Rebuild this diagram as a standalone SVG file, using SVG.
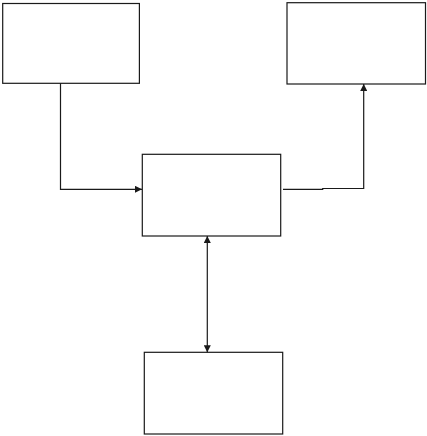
<svg xmlns="http://www.w3.org/2000/svg" width="427" height="436" viewBox="0 0 427 436">
<style>
.box{fill:#fff;stroke:#1a1a1a;stroke-width:1.2}
.lbl{font-family:"Liberation Sans",Arial,sans-serif;font-size:14px;fill:#fff;text-anchor:middle}
.big{font-size:17px}
.con{fill:none;stroke:#1a1a1a;stroke-width:1.2}
</style>
<defs>
<marker id="ah" viewBox="0 0 10 10" refX="10" refY="5" markerWidth="7" markerHeight="7" markerUnits="userSpaceOnUse" orient="auto-start-reverse">
<path d="M0,0 L10,5 L0,10 Z" fill="#1a1a1a"/>
</marker>
</defs>
<rect width="427" height="436" fill="#fff"/>
<g id="input">
<rect class="box" x="2.7" y="3.5" width="136.7" height="79.8"/>
<text class="lbl" x="71" y="31">Periféricos</text>
<text class="lbl" x="71" y="47.5">de</text>
<text class="lbl" x="71" y="64">Input</text>
</g>
<g id="output">
<rect class="box" x="287" y="2.7" width="138.5" height="81.3"/>
<text class="lbl" x="356" y="29">Periféricos</text>
<text class="lbl" x="356" y="45.5">de</text>
<text class="lbl" x="356" y="62">Output</text>
</g>
<g id="cpu">
<rect class="box" x="142.3" y="154.3" width="138.4" height="81.7"/>
<text class="lbl big" x="212" y="200.5">CPU</text>
</g>
<g id="storage">
<rect class="box" x="144.3" y="352.3" width="138.4" height="81.7"/>
<text class="lbl" x="213" y="381">Periféricos</text>
<text class="lbl" x="213" y="397.5">Auxiliares de</text>
<text class="lbl" x="213" y="414">Armazenamento</text>
</g>
<g id="connectors">
<path class="con" d="M60.5,83.3 V189.3 H142" marker-end="url(#ah)"/>
<path class="con" d="M283,189.3 H322.7 V188.5 H363.7 V84" marker-end="url(#ah)"/>
<path class="con" d="M207.3,236 V352.3" marker-start="url(#ah)" marker-end="url(#ah)"/>
</g>
</svg>
